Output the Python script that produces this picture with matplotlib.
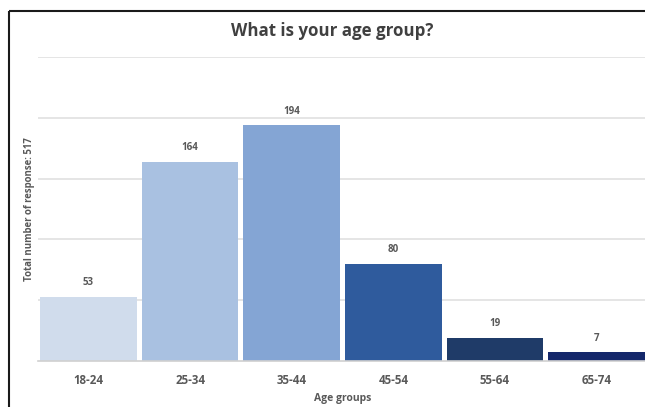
import matplotlib.pyplot as plt
from matplotlib.lines import Line2D

plt.rcParams['font.family'] = ['Open Sans', 'DejaVu Sans']

age_groups = ['18-24', '25-34', '35-44', '45-54', '55-64', '65-74']
responses = [53, 164, 194, 80, 19, 7]
bar_colors = ['#d0dcec', '#a9c1e1', '#84a5d4', '#2f5b9d', '#1f3b68', '#14276b']

fig = plt.figure(figsize=(6.45, 4.07), dpi=100)
ax = fig.add_axes([37.7 / 645, 46 / 407, 609.6 / 645, 304 / 407])

x = range(len(age_groups))
bars = ax.bar(x, responses, width=0.95, color=bar_colors, zorder=2)
for b, v in zip(bars, responses):
    ax.text(b.get_x() + b.get_width() / 2, v + 7, str(v), ha='center', va='bottom',
            fontsize=7, fontweight='bold', color='#595959')

ax.set_xlim(-0.5, len(age_groups) - 0.5)
ax.set_ylim(0, 250)
ax.set_yticks([50, 100, 150, 200, 250])
ax.yaxis.grid(True, color='#e0e0e0', linewidth=1.2, zorder=0)
ax.tick_params(axis='y', length=0, labelleft=False)
ax.set_xticks(list(x))
ax.set_xticklabels(age_groups, fontsize=8.3, fontweight='bold', color='#595959')
ax.tick_params(axis='x', length=0, pad=9)
for s in ['top', 'right', 'left']:
    ax.spines[s].set_visible(False)
ax.spines['bottom'].set_color('#d0d0d0')
ax.spines['bottom'].set_linewidth(1.2)

ax.set_xlabel('Age groups', fontsize=7.5, fontweight='bold', color='#595959', labelpad=5)
fig.text(30 / 645, 1 - 209 / 407, 'Total number of response: 517', rotation=90,
         ha='center', va='center', fontsize=6.9, fontweight='bold', color='#595959')
fig.text(332 / 645, 1 - 31 / 407, 'What is your age group?', ha='center', va='center',
         fontsize=12.2, fontweight='bold', color='#404040')

# outer frame: only the left and top edges show
x0, y0 = 9 / 645, 1 - 11 / 407
fig.lines.append(Line2D([x0, x0], [0, y0], transform=fig.transFigure,
                        color='#1a1a1a', linewidth=1.5, solid_capstyle='butt'))
fig.lines.append(Line2D([x0, 1.05], [y0, y0], transform=fig.transFigure,
                        color='#1a1a1a', linewidth=1.5, solid_capstyle='butt'))

fig.savefig('out.png', dpi=100)
